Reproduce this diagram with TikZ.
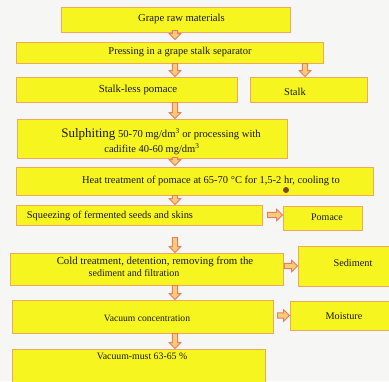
\documentclass[tikz,border=0pt]{standalone}
\usepackage{fontspec}
\setmainfont{Liberation Serif}
\usetikzlibrary{fit,calc}
\definecolor{boxfill}{HTML}{F7F520}
\definecolor{boxdraw}{HTML}{F0A860}
\definecolor{arrdraw}{HTML}{E87C6A}
\definecolor{arrfill}{HTML}{F8CC70}
\definecolor{bgc}{HTML}{F6F6F4}
\definecolor{dotc}{HTML}{7A4A1A}
\newcommand{\fs}[1]{\fontsize{#1}{#1}\selectfont}
\begin{document}
\begin{tikzpicture}[x=1pt,y=-1pt,
  stepbox/.style={draw=boxdraw,fill=boxfill,line width=0.9pt,inner sep=0pt,rectangle},
  txt/.style={inner sep=0pt,font=\fs{10.5},text=black!90},
  varrow/.style={draw=arrdraw,fill=arrfill,line width=0.9pt,line join=miter,
    to path={let \p1=(\tikztostart),\p2=(\tikztotarget) in
      (\x1-2.6pt,\y1) -- (\x1+2.6pt,\y1) -- (\x1+2.6pt,\y2+6pt) -- (\x1+5.8pt,\y2+6pt)
      -- (\x1,\y2) -- (\x1-5.8pt,\y2+6pt) -- (\x1-2.6pt,\y2+6pt) -- cycle}},
  harrow/.style={draw=arrdraw,fill=arrfill,line width=0.9pt,line join=miter,
    to path={let \p1=(\tikztostart),\p2=(\tikztotarget) in
      (\x1,\y1+2.6pt) -- (\x2-6pt,\y1+2.6pt) -- (\x2-6pt,\y1+5.8pt) -- (\x2,\y1)
      -- (\x2-6pt,\y1-5.8pt) -- (\x2-6pt,\y1-2.6pt) -- (\x1,\y1-2.6pt) -- cycle}}]
\useasboundingbox (0,0) rectangle (389,381);
\clip (0,0) rectangle (389,381);
\fill[bgc] (0,0) rectangle (389,381);
\coordinate (ax) at (175,0);
\coordinate (sx) at (305,0);
% boxes
\node[stepbox,fit={(61,7) (290,32)}] (b1) {};
\node[stepbox,fit={(16,42) (323,63)}] (b2) {};
\node[stepbox,fit={(16,77) (237,102)}] (b3) {};
\node[stepbox,fit={(250,77) (367,102)}] (stalk) {};
\node[stepbox,fit={(17,119) (287,158)}] (b4) {};
\node[stepbox,fit={(16,167) (373,195)}] (b5) {};
\node[stepbox,fit={(16,205) (262,225)}] (b6) {};
\node[stepbox,fit={(283,206) (362,230)}] (pomace) {};
\node[stepbox,fit={(10,253) (283,285)}] (b7) {};
\node[stepbox,fit={(298,246) (394,286)}] (sediment) {};
\node[stepbox,fit={(12,300) (273,333)}] (b8) {};
\node[stepbox,fit={(290,301) (394,330)}] (moisture) {};
\node[stepbox,fit={(12,349) (265,386)}] (b9) {};
% texts
\node[txt,font=\fs{10.7}] (t1) at (181.5,19) {Grape raw materials};
\node[txt,font=\fs{10.5}] (t2) at (180,52) {Pressing in a grape stalk separator};
\node[txt,font=\fs{10.8}] (t3) at (138,90) {Stalk-less pomace};
\node[txt,font=\fs{10.5}] (t3b) at (295,92) {Stalk};
\node[txt,font=\fs{10.6}] (t4a) at (161,134) {{\fs{13}Sulphiting} 50-70 mg/dm\textsuperscript{3} or processing with};
\node[txt,font=\fs{10.5}] (t4b) at (152,149) {cadifite 40-60 mg/dm\textsuperscript{3}};
\node[txt,font=\fs{10.5}] (t5) at (211,181) {Heat treatment of pomace at 65-70 °C for 1,5-2 hr, cooling to};
\fill[dotc] (286,190) circle (3pt);
\node[txt,font=\fs{10.4}] (t6) at (110,216) {Squeezing of fermented seeds and skins};
\node[txt,font=\fs{10}] (t6b) at (327,217) {Pomace};
\node[txt,font=\fs{10.8}] (t7a) at (155,262) {Cold treatment, detention, removing from the};
\node[txt,font=\fs{10}] (t7b) at (134,273) {sediment and filtration};
\node[txt,font=\fs{10.3}] (t7c) at (353,263) {Sediment};
\node[txt,font=\fs{9.6}] (t8) at (147,318) {Vacuum concentration};
\node[txt,font=\fs{10.2}] (t8b) at (344,316) {Moisture};
\node[txt,font=\fs{9.8}] (t9) at (142,356) {Vacuum-must 63-65 \%};
% arrows
\draw[varrow] ([yshift=2pt]b1.south -| ax) to ([yshift=2pt]b2.north -| ax);
\draw[varrow] (b2.south -| ax) to (b3.north -| ax);
\draw[varrow] (b2.south -| sx) to (stalk.north -| sx);
\draw[varrow] (b3.south -| ax) to (b4.north -| ax);
\draw[varrow] ([yshift=1pt]b4.south -| ax) to ([yshift=1pt]b5.north -| ax);
\draw[varrow] (b5.south -| ax) to (b6.north -| ax);
\draw[varrow] ([yshift=-12pt]b6.south -| ax) to (b7.north -| ax);
\draw[varrow] (b7.south -| ax) to (b8.north -| ax);
\draw[varrow] (b8.south -| ax) to (b9.north -| ax);
\draw[harrow] ([xshift=5pt]b6.east) to (b6.east -| pomace.west);
\draw[harrow] ([xshift=1pt,yshift=3pt]b7.east) to ([yshift=3pt]b7.east -| sediment.west);
\draw[harrow] ([xshift=4pt,yshift=1pt]b8.east) to ([yshift=1pt]b8.east -| moisture.west);
\end{tikzpicture}
\end{document}
